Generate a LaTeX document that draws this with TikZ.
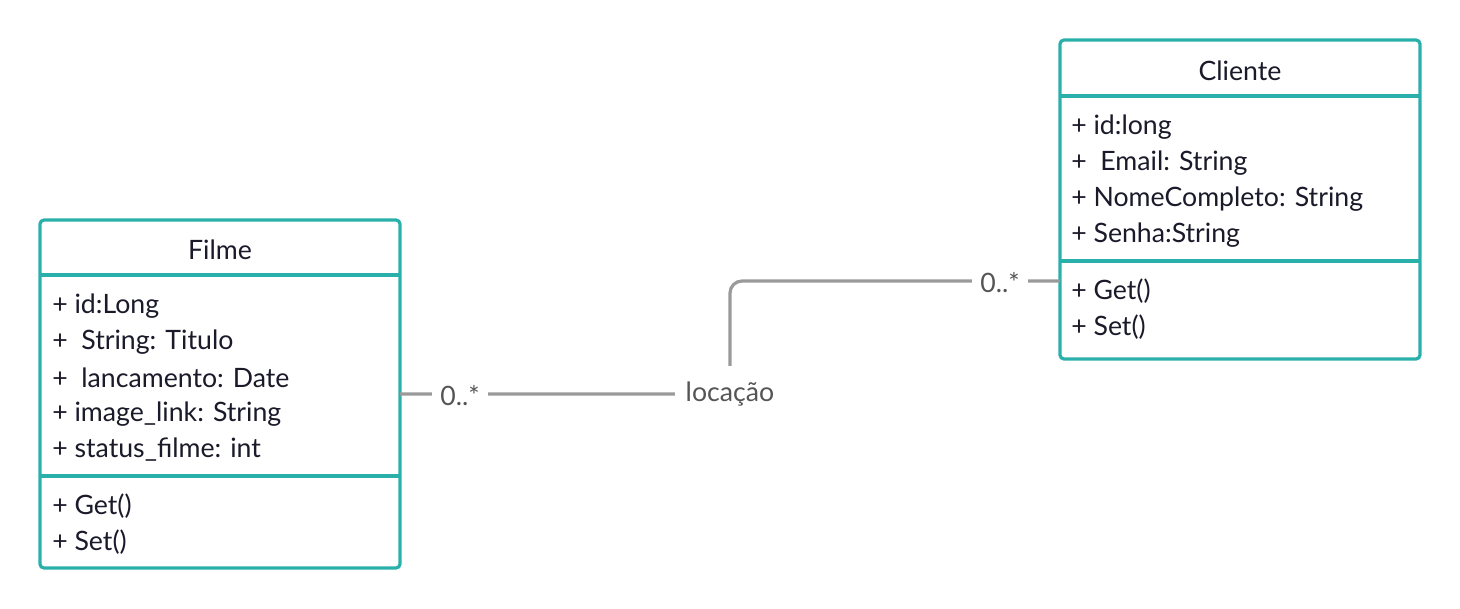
\documentclass[tikz,border=0pt]{standalone}
\usepackage{fontspec}
\setmainfont{Lato}
\definecolor{teal1}{HTML}{2AB0AB}
\definecolor{conn}{HTML}{9A9A9A}
\definecolor{lbl}{HTML}{555555}
\definecolor{txt}{HTML}{1A1A2A}
\begin{document}
\begin{tikzpicture}[x=0.75pt,y=-0.75pt,
  classbox/.style={draw=teal1,line width=2.4pt,rounded corners=3pt,fill=white,inner sep=0pt},
  divider/.style={draw=teal1,line width=2.4pt},
  member/.style={anchor=west,inner sep=0pt,font=\fontsize{20}{24}\selectfont,text=txt,yshift=-1.5pt},
  title/.style={inner sep=0pt,font=\fontsize{20}{24}\selectfont,text=txt,yshift=-1pt},
  connector/.style={draw=conn,line width=2.4pt},
  mult/.style={fill=white,inner xsep=6pt,inner ysep=2pt,font=\fontsize{20}{24}\selectfont,text=lbl}]
\useasboundingbox (0,0) rectangle (1460,608);
% Filme
\node[classbox,minimum width=270pt,minimum height=261pt] (filme) at (220,394) {};
\draw[divider] (40,275) -- (400,275);
\draw[divider] (40,476) -- (400,476);
\node[title] (filmeT) at (220,248) {Filme};
\node[member] (f1) at (52,304) {+ id:Long};
\node[member] (f2) at (52,340) {+\ \ String: Titulo};
\node[member] (f3) at (52,376) {+\ \ lancamento: Date};
\node[member] (f4) at (52,412) {+ image\_link: String};
\node[member] (f5) at (52,448) {+ status\_filme: int};
\node[member] (f6) at (52,504) {+ Get()};
\node[member] (f7) at (52,540) {+ Set()};
% Cliente
\node[classbox,minimum width=270pt,minimum height=239.25pt] (cliente) at (1240,199.5) {};
\draw[divider] (1060,96) -- (1420,96);
\draw[divider] (1060,261) -- (1420,261);
\node[title] (clienteT) at (1240,69) {Cliente};
\node[member] (c1) at (1071,125) {+ id:long};
\node[member] (c2) at (1071,161) {+\ \ Email: String};
\node[member] (c3) at (1071,197) {+ NomeCompleto: String};
\node[member] (c4) at (1071,233) {+ Senha:String};
\node[member] (c5) at (1071,289) {+ Get()};
\node[member] (c6) at (1071,325) {+ Set()};
% connector
\coordinate (fa) at (400,394);
\coordinate (ca) at (1060,281);
\coordinate (bend) at (730,394);
\draw[connector,rounded corners=9pt] (fa) -- (bend) -- (730,281) -- (ca);
\node[mult,inner xsep=8pt,inner ysep=12pt,yshift=-1pt] (loc) at (730,393) {locação};
\node[mult,yshift=-1pt] (m1) at (460,394) {0..*};
\node[mult,yshift=-1pt] (m2) at (1000,281) {0..*};
\end{tikzpicture}
\end{document}
